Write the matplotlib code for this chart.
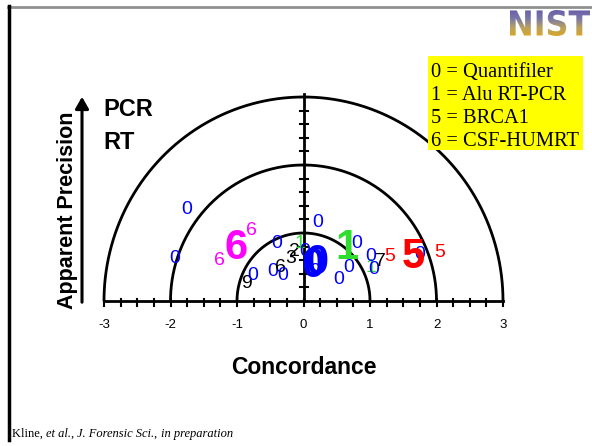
import numpy as np
import matplotlib
matplotlib.use("Agg")
import matplotlib.pyplot as plt
from matplotlib.textpath import TextPath
from matplotlib.patches import PathPatch, Rectangle, FancyArrowPatch
from matplotlib.font_manager import FontProperties
from matplotlib.colors import LinearSegmentedColormap

# marks: label, concordance, apparent precision, colour (upper case = big bold mark)
labels = ["0", "0", "6", "6", "6", "0", "9", "0", "0", "6", "3", "2", "1", "0", "0", "0",
          "0", "0", "0", "1", "0", "0", "7", "1", "0", "5", "5", "0", "5", "0", "0"]
conc = [-1.76, -1.93, -1.26, -0.79, -1.015, -0.40, -0.85, -0.76, -0.46, -0.35, -0.20, -0.13, -0.05, -0.31, 0.02, 0.22,
        0.80, 0.68, 0.53, 1.02, 1.01, 1.05, 1.16, 0.65, 0.17, 1.29, 2.05, 1.75, 1.65, 0.20, 0.14]
prec = [1.34, 0.62, 0.59, 1.03, 0.78, 0.84, 0.26, 0.38, 0.43, 0.49, 0.63, 0.73, 0.85, 0.38, 0.73, 1.16,
        0.85, 0.49, 0.31, 0.49, 0.65, 0.46, 0.58, 0.78, 0.43, 0.66, 0.71, 0.68, 0.65, 0.56, 0.52]
colors = ["b", "b", "m", "m", "M", "b", "k", "b", "b", "k", "k", "k", "g", "b", "b", "b",
          "b", "b", "b", "g", "b", "b", "k", "G", "b", "r", "r", "b", "R", "B", "B"]

legend_lines = ["0 = Quantifiler", "1 = Alu RT-PCR", "5 = BRCA1", "6 = CSF-HUMRT"]
xticklabels = ["-3", "-2", "-1", "0", "1", "2", "3"]

cmap = {"b": "#0000ff", "m": "#ff00ff", "k": "#000000", "g": "#2edd2e", "r": "#ff0000"}

fig = plt.figure(figsize=(5.92, 4.46), dpi=100)
ax = fig.add_axes([0, 0, 1, 1])
sx, sy = 66.5, 68.0
ax.set_xlim(-303.5 / sx, (592 - 303.5) / sx)
ax.set_ylim((301 - 446) / sy, 301 / sy)
ax.axis("off")

# semicircles
t = np.linspace(0, np.pi, 300)
for r in [1, 2, 3]:
    ax.plot(r * np.cos(t), r * np.sin(t), color="black", lw=2, solid_capstyle="butt")

# axes with ticks
ax.plot([-3, 3], [0, 0], color="black", lw=2)
ax.plot([0, 0], [0, 3.05], color="black", lw=2)
for xv in np.arange(-3, 3.01, 0.25):
    ax.plot([xv, xv], [-5 / sy, 2 / sy], color="black", lw=1.5)
for yv in np.arange(0.2, 3.01, 0.2):
    ax.plot([-4 / sx, 4 / sx], [yv, yv], color="black", lw=1.5)
for i, lab in enumerate(xticklabels):
    ax.text(i - 3, -24 / sy, lab, ha="center", va="center", fontsize=9.5,
            family="Liberation Sans")

# data marks
for lab, x, y, c in zip(labels, conc, prec, colors):
    if c.isupper():
        ax.text(x, y, lab, ha="center", va="center", fontsize=30, fontweight="bold",
                color=cmap[c.lower()], family="Liberation Sans")
    else:
        ax.text(x, y, lab, ha="center", va="center", fontsize=14,
                color=cmap[c], family="Liberation Sans")

ax.text(0, -66 / sy, "Concordance", ha="center", va="center", fontsize=16.5,
        fontweight="bold", family="Liberation Sans")


# figure-level decorations (pixel coords)
def fx(px):
    return px / 592


def fy(py):
    return 1 - py / 446


fig.text(fx(67), fy(210), "Apparent Precision", rotation=90, ha="center", va="center",
         fontsize=15.5, fontweight="bold", family="Liberation Sans")
fig.add_artist(FancyArrowPatch(
    (fx(82), fy(305)), (fx(82), fy(94)), transform=fig.transFigure,
    arrowstyle="-|>,head_length=7,head_width=4", mutation_scale=1, lw=2.2, color="black"))
fig.text(fx(103), fy(110), "PCR", ha="left", va="center", fontsize=17,
         fontweight="bold", family="Liberation Sans")
fig.text(fx(103), fy(143), "RT", ha="left", va="center", fontsize=17,
         fontweight="bold", family="Liberation Sans")

# legend box
fig.patches.append(Rectangle((fx(428), fy(150)), fx(583) - fx(428), fy(56) - fy(150),
                             transform=fig.transFigure, facecolor="#ffff00", edgecolor="none"))
for i, line in enumerate(legend_lines):
    fig.text(fx(431), fy(73 + 22.8 * i), line, ha="left", va="center", fontsize=14.8,
             family="Liberation Serif")

# frame lines
fig.add_artist(plt.Line2D([fx(8), 1], [fy(7), fy(7)], color="#909090", lw=2,
                          transform=fig.transFigure))
fig.add_artist(plt.Line2D([fx(8.5), fx(8.5)], [fy(6), fy(440)], color="black", lw=2.5,
                          transform=fig.transFigure))

# footer, mixed roman / italic
parts = [("Kline, ", "normal"), ("et al.", "italic"), (", ", "normal"),
         ("J. Forensic Sci.", "italic"), (", ", "normal"), ("in preparation", "italic")]
fig.canvas.draw()
renderer = fig.canvas.get_renderer()
xpos = fx(12)
for txt, st in parts:
    tt = fig.text(xpos, fy(434), txt, ha="left", va="center", fontsize=9,
                  family="Liberation Serif", style=st)
    bb = tt.get_window_extent(renderer)
    xpos += bb.width / 592

# NIST logo with gradient fill
fp = FontProperties(family="DejaVu Sans", weight="bold")
tp = TextPath((0, 0), "NIST", size=10, prop=fp)
ext = tp.get_extents()
lax = fig.add_axes([fx(510), fy(36), fx(590) - fx(510), fy(10) - fy(36)])
lax.axis("off")
lax.set_xlim(ext.x0, ext.x1)
lax.set_ylim(ext.y0, ext.y1)
patch = PathPatch(tp, facecolor="none", edgecolor="none")
lax.add_patch(patch)
grad = np.linspace(0, 1, 100).reshape(-1, 1)
gcm = LinearSegmentedColormap.from_list("nist", ["#6a5fa8", "#7a78a8", "#b8a060", "#d8a828"])
im = lax.imshow(grad, cmap=gcm, aspect="auto", origin="upper",
                extent=[ext.x0, ext.x1, ext.y0, ext.y1])
im.set_clip_path(patch)

fig.savefig("out.png", dpi=100)
